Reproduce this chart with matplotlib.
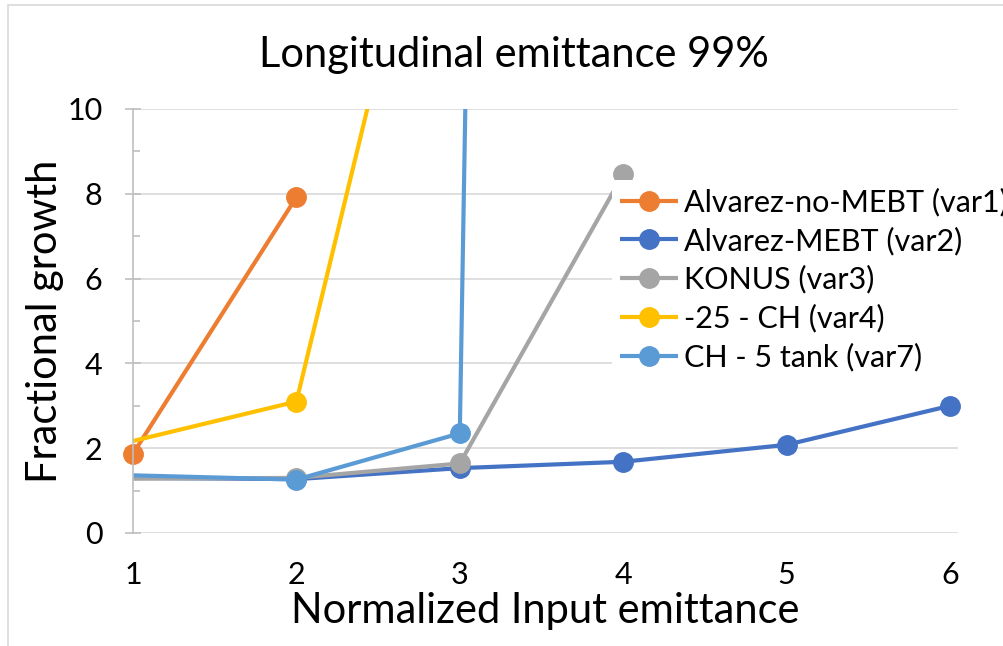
import matplotlib
matplotlib.use("Agg")
import matplotlib.pyplot as plt
from matplotlib.patches import Rectangle

plt.rcParams['font.family'] = ['Lato', 'DejaVu Sans']

# Daten
x_var1 = [1, 2]
y_var1 = [1.87, 7.92]
x_var2 = [1, 2, 3, 4, 5, 6]
y_var2 = [1.3, 1.27, 1.53, 1.68, 2.08, 3.0]
x_var3 = [1, 2, 3, 4]
y_var3 = [1.28, 1.3, 1.64, 8.46]
x_var4 = [1, 2, 3]
y_var4 = [2.17, 3.1, 19.0]
x_var7 = [1, 2, 3, 4]
y_var7 = [1.36, 1.26, 2.35, 230.0]

labels = ['Alvarez-no-MEBT (var1)', 'Alvarez-MEBT (var2)', 'KONUS (var3)',
          '-25 - CH (var4)', 'CH - 5 tank (var7)']
colors = ['#ED7D31', '#4472C4', '#A5A5A5', '#FFC000', '#5B9BD5']
x_ticks = [1, 2, 3, 4, 5, 6]
y_ticks = [0, 2, 4, 6, 8, 10]

fig = plt.figure(figsize=(10.04, 6.46), dpi=100)
ax = fig.add_axes([133 / 1004, 113 / 646, 825 / 1004, 424 / 646])

# Rahmen des Diagrammbereichs (links und oben sichtbar)
fig.patches.append(Rectangle((8 / 1004, -0.1), 1.2, 1.1 - 5 / 646,
                             transform=fig.transFigure, fill=False,
                             edgecolor='#d9d9d9', lw=1.2))

series = [(x_var1, y_var1, None), (x_var2, y_var2, slice(1, None)),
          (x_var3, y_var3, slice(1, None)), (x_var4, y_var4, slice(1, None)),
          (x_var7, y_var7, slice(1, None))]

# clip nur oben (y=10), links nicht, damit der Marker bei x=1 ganz sichtbar ist
clip = Rectangle((-0.1, -0.1), 1.2, 1.1, transform=ax.transAxes)
for (xs, ys, mev), lab, col in zip(series, labels, colors):
    ln, = ax.plot(xs, ys, color=col, lw=3, marker='o', ms=14, label=lab,
                  markevery=mev, solid_capstyle='butt')
    ln.set_clip_path(clip)

ax.set_xlim(1, 6.049)
ax.set_ylim(0, 10)
ax.set_xticks(x_ticks)
ax.set_yticks(y_ticks)
ax.set_yticks([1, 3, 5, 7, 9], minor=True)
ax.grid(axis='y', color='#d9d9d9', lw=1.2)
ax.set_axisbelow(True)
for s in ['top', 'right', 'bottom']:
    ax.spines[s].set_visible(False)
ax.spines['left'].set_color('#bfbfbf')
ax.spines['left'].set_linewidth(1.2)
ax.tick_params(axis='y', which='major', direction='inout', length=12,
               color='#bfbfbf', width=1.2, labelsize=22, pad=16)
ax.tick_params(axis='y', which='minor', direction='in', length=5,
               color='#bfbfbf', width=1.2)
ax.tick_params(axis='x', length=0, labelsize=22, pad=20)

ax.set_title('Longitudinal emittance 99%', fontsize=30, pad=30, x=0.462)
ax.set_xlabel('Normalized Input emittance', fontsize=30, labelpad=2)
ax.set_ylabel('Fractional growth', fontsize=30, labelpad=2)

leg = ax.legend(loc='upper left', bbox_to_anchor=(612 / 1004, 1 - 180 / 646),
                bbox_transform=fig.transFigure, fontsize=22, frameon=True,
                edgecolor='none', facecolor='white', framealpha=1,
                fancybox=False, borderaxespad=0, borderpad=0.25,
                handlelength=1.9, labelspacing=0.33, handletextpad=0.2)

fig.savefig('out.png', dpi=100)
